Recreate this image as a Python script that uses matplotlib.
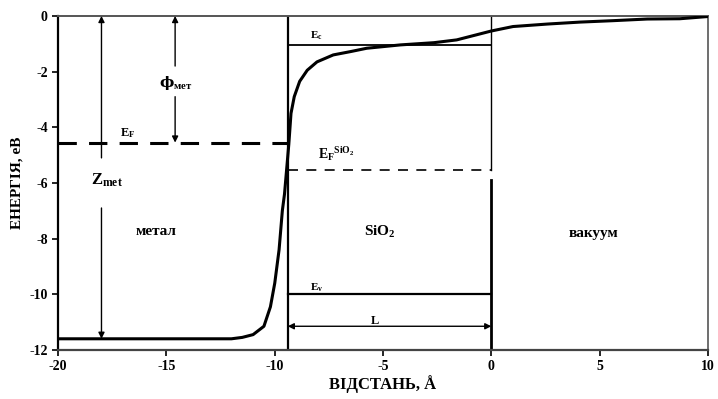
import matplotlib
matplotlib.use("Agg")
import matplotlib.pyplot as plt

plt.rcParams['font.family'] = ['Liberation Serif', 'DejaVu Serif']
plt.rcParams['font.weight'] = 'bold'
plt.rcParams['axes.unicode_minus'] = False
plt.rcParams['mathtext.fontset'] = 'custom'
plt.rcParams['mathtext.rm'] = 'Liberation Serif:bold'
plt.rcParams['mathtext.it'] = 'Liberation Serif:bold'
plt.rcParams['mathtext.bf'] = 'Liberation Serif:bold'

# potential profile (distance in Angstrom, energy in eV)
dist = [-20, -12, -11.5, -11, -10.5, -10.2, -10, -9.8, -9.65, -9.55, -9.45, -9.35,
        -9.25, -9.1, -8.85, -8.5, -8.05, -7.3, -6.5, -5.75, -4.2, -2.65, -1.6, -0.7,
        0, 1, 2.6, 4.1, 5.6, 7.2, 8.7, 10]
energy = [-11.6, -11.6, -11.55, -11.45, -11.15, -10.45, -9.6, -8.4, -7.0, -6.4, -5.5,
          -4.6, -3.5, -2.9, -2.35, -1.95, -1.65, -1.4, -1.28, -1.16, -1.04, -0.96,
          -0.86, -0.68, -0.54, -0.38, -0.29, -0.22, -0.17, -0.11, -0.1, -0.02]

# levels and boundaries
x_interface = -9.4
x_oxide_end = 0
E_c = -1.05
E_v = -10.0
E_F_met = -4.55
E_F_ox = -5.55
E_bottom = -11.6
x_zmet = -18
x_phi = -14.6
y_L = -11.15

xticks = [-20, -15, -10, -5, 0, 5, 10]
yticks = [0, -2, -4, -6, -8, -10, -12]

fig = plt.figure(figsize=(7.18, 3.99), dpi=100)
ax = fig.add_axes([0.081, 0.123, 0.905, 0.837])

ax.plot(dist, energy, color='black', lw=2.2, zorder=5)

# structure lines
ax.plot([x_interface, x_interface], [0, -11.95], color='black', lw=1.6)
ax.plot([x_oxide_end, x_oxide_end], [0, E_F_ox], color='black', lw=1.0)
ax.plot([x_oxide_end, x_oxide_end], [-5.9, -11.95], color='black', lw=2.0)
ax.plot([x_interface, x_oxide_end], [E_c, E_c], color='black', lw=1.3)
ax.plot([x_interface, x_oxide_end], [E_v, E_v], color='black', lw=1.6)
ax.plot([-20, x_interface], [E_F_met, E_F_met], color='black', lw=2.2, dashes=(6, 4))
ax.plot([x_interface, x_oxide_end], [E_F_ox, E_F_ox], color='black', lw=1.2, dashes=(6, 5))

ap = dict(arrowstyle='-|>', color='black', lw=1.0, mutation_scale=9,
          shrinkA=0, shrinkB=0)
# Z_met arrow
ax.annotate('', xy=(x_zmet, 0), xytext=(x_zmet, -5.1), arrowprops=ap)
ax.annotate('', xy=(x_zmet, E_bottom), xytext=(x_zmet, -6.9), arrowprops=ap)
# phi arrow
ax.annotate('', xy=(x_phi, 0), xytext=(x_phi, -1.8), arrowprops=ap)
ax.annotate('', xy=(x_phi, E_F_met), xytext=(x_phi, -2.9), arrowprops=ap)
# L arrow
ax.annotate('', xy=(x_interface, y_L), xytext=(x_oxide_end, y_L),
            arrowprops=dict(arrowstyle='<|-|>', color='black', lw=1.0,
                            mutation_scale=9, shrinkA=0, shrinkB=0))

# labels
ax.text(-15.5, -7.75, 'метал', fontsize=11, ha='center', va='center')
ax.text(-5.14, -7.75, r'SiO$_2$', fontsize=11, ha='center', va='center')
ax.text(4.7, -7.8, 'вакуум', fontsize=11, ha='center', va='center')
ax.text(-16.8, -4.2, r'E$_F$', fontsize=9, ha='center', va='center')
ax.text(-17.75, -5.9, r'Z$_{\mathrm{met}}$', fontsize=12, ha='center', va='center')
ax.text(-15.35, -2.4, r'ϕ$_{\mathrm{мет}}$', fontsize=11, ha='left', va='center',
        family=['DejaVu Serif'])
ax.text(-8.06, -0.72, r'E$_c$', fontsize=8, ha='center', va='center')
ax.text(-8.06, -9.75, r'E$_v$', fontsize=8, ha='center', va='center')
ax.text(-7.15, -4.95, r'E$_F$$^{\mathrm{SiO_2}}$', fontsize=10, ha='center', va='center')
ax.text(-5.37, -10.95, 'L', fontsize=9, ha='center', va='center')

ax.set_xlim(-20, 10)
ax.set_ylim(-12, 0)
ax.set_xticks(xticks)
ax.set_yticks(yticks)
ax.set_xticklabels([str(v) for v in xticks], fontsize=10, fontweight='bold')
ax.set_yticklabels([str(v) for v in yticks], fontsize=10, fontweight='bold')
ax.tick_params(direction='out', length=4, width=1.2)
ax.set_xlabel('ВІДСТАНЬ, Å', fontsize=12, fontweight='bold', labelpad=1)
ax.set_ylabel('ЕНЕРГІЯ, еВ', fontsize=11, fontweight='bold', labelpad=4)

ax.spines['left'].set_linewidth(1.6)
ax.spines['bottom'].set_linewidth(1.6)
ax.spines['bottom'].set_color('#444444')
ax.spines['top'].set_color('#555555')
ax.spines['top'].set_linewidth(1.4)
ax.spines['right'].set_color('#555555')
ax.spines['right'].set_linewidth(1.2)

fig.savefig('out.png', dpi=100)
